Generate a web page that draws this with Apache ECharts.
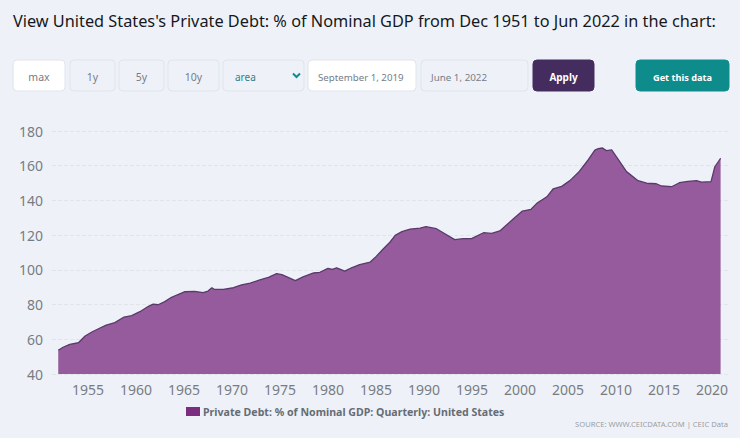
<!DOCTYPE html>
<html><head><meta charset="utf-8">
<script src="https://cdn.jsdelivr.net/npm/echarts@6/dist/echarts.min.js"></script>
<style>html,body{margin:0;padding:0;background:#eef2f8}#c{width:740px;height:438px}</style>
</head><body><div id="c"></div>
<script>
const years = [1951.9,1952.4,1953.1,1954.0,1954.7,1955.4,1956.25,1956.9,1957.8,1958.75,1959.55,1960.4,1961.3,1961.8,1962.3,1963.0,1963.7,1964.25,1965.1,1966.1,1967.0,1967.5,1967.9,1968.15,1969.1,1970.15,1971.0,1971.9,1972.9,1973.8,1974.65,1975.2,1975.9,1976.6,1977.4,1978.5,1979.15,1980.0,1980.45,1980.9,1981.75,1982.45,1983.3,1984.4,1985.0,1985.75,1986.45,1987.0,1987.7,1988.55,1989.6,1990.2,1991.3,1992.0,1993.2,1994.1,1994.95,1996.2,1997.05,1997.9,1998.8,1999.5,2000.25,2001.15,2001.75,2002.8,2003.45,2004.35,2005.2,2006.1,2007.1,2007.8,2008.15,2008.6,2009.0,2009.55,2010.25,2011.1,2012.3,2013.2,2014.2,2014.75,2015.8,2016.6,2017.5,2018.4,2018.9,2019.9,2020.3,2020.9];
const debt = [53.7,55.4,57.1,58,61.9,64.2,66.5,68.2,69.6,72.8,73.6,75.9,79,80.3,79.9,81.7,84.2,85.5,87.4,87.6,86.9,87.8,89.7,88.8,88.8,89.7,91.4,92.4,94.2,95.7,97.8,97.2,95.5,93.8,96,98.2,98.6,100.9,100.3,101.2,99.3,101.2,103,104.5,107.6,112,115.9,119.9,122,123.5,124.1,124.9,123.7,121.4,117.4,118,118,121.4,121,122.4,126.8,130.3,133.9,134.9,138.3,142.1,146.6,148.1,151.4,156.2,163.3,169,169.8,170.2,168.7,169.1,163.5,156.6,151.4,149.9,149.6,148.3,147.9,150.2,151,151.4,150.6,150.8,159.4,164.3];
const xTicks = [1955,1960,1965,1970,1975,1980,1985,1990,1995,2000,2005,2010,2015,2020];
const seriesName = 'Private Debt: % of Nominal GDP: Quarterly: United States';
const titleText = "View United States's Private Debt: % of Nominal GDP from Dec 1951 to Jun 2022 in the chart:";
const sourceText = 'SOURCE: WWW.CEICDATA.COM | CEIC Data';

const FONT = '"Noto Sans", "Open Sans", sans-serif';
function box(x, w, label, o) {
  o = o || {};
  return {
    type: 'group', children: [
      { type: 'rect', shape: { x: x, y: 60, width: w, height: 31, r: 4 },
        style: { fill: o.fill || '#eef2f8', stroke: o.stroke || '#dfe4ec', lineWidth: 1 } },
      { type: 'text', style: { x: o.left ? x + (o.pad || 10) : x + w / 2, y: 77, text: label,
        fill: o.color || '#777d86', font: (o.weight || 'normal') + ' ' + (o.size || 10.5) + 'px ' + FONT,
        align: o.left ? 'left' : 'center', verticalAlign: 'middle' } }
    ]
  };
}
const chart = echarts.init(document.getElementById('c'), null, { renderer: 'svg' });
chart.setOption({
  backgroundColor: '#eef2f8',
  animation: false,
  title: { text: titleText, left: 8, top: 8,
    textStyle: { fontFamily: FONT, fontSize: 16.3, fontWeight: 'normal', color: '#15181d' } },
  grid: { left: 52, right: 12, top: 131, bottom: 64 },
  legend: { left: 181, top: 401, icon: 'rect', itemWidth: 14, itemHeight: 9, itemGap: 4,
    itemStyle: { color: '#7b2d80' },
    textStyle: { fontFamily: FONT, fontSize: 10.6, fontWeight: 'bold', color: '#666c75', padding: [0, 0, 0, -2] } },
  xAxis: { type: 'value', min: 1951.25, max: 2021.67, splitLine: { show: false },
    axisLine: { show: false }, axisTick: { show: false },
    axisLabel: { customValues: xTicks, margin: 8, fontFamily: FONT, fontSize: 14, color: '#777c83',
      formatter: v => String(v) } },
  yAxis: { type: 'value', min: 40, max: 180, interval: 20,
    axisLine: { show: false }, axisTick: { show: false },
    splitLine: { lineStyle: { color: '#e1e4e8', type: 'dashed', width: 1 } },
    axisLabel: { margin: 9, fontFamily: FONT, fontSize: 14, color: '#777c83' } },
  series: [{ name: seriesName, type: 'line', showSymbol: false, symbol: 'none',
    data: years.map((y, i) => [y, debt[i]]),
    lineStyle: { color: '#5a3a6b', width: 1.3 },
    itemStyle: { color: '#7b2d80' },
    areaStyle: { color: '#955b9c', opacity: 1, origin: 'start' } }],
  graphic: [
    box(13, 52, 'max', { fill: '#ffffff' }),
    box(70, 45, '1y'), box(119, 45, '5y'), box(168, 51, '10y'),
    box(223, 81, 'area', { color: '#2f7f8c', left: true, pad: 12, size: 10 }),
    { type: 'polyline', shape: { points: [[293, 73.5], [296.5, 77], [300, 73.5]] },
      style: { stroke: '#0e8c8c', lineWidth: 2, fill: 'none' } },
    box(308, 108, 'September 1, 2019', { fill: '#ffffff', left: true, size: 9.7 }),
    box(421, 107, 'June 1, 2022', { left: true, size: 9.8 }),
    box(533, 61, 'Apply', { fill: '#452c5e', stroke: '#452c5e', color: '#ffffff', weight: 'bold', size: 10 }),
    box(636, 93, 'Get this data', { fill: '#0e8c8c', stroke: '#0e8c8c', color: '#ffffff', weight: 'bold', size: 9.2 }),
    { type: 'text', style: { x: 728, y: 424, text: sourceText, fill: '#9a9ea5',
      font: '7.6px ' + FONT, align: 'right', verticalAlign: 'middle' } }
  ]
});
</script></body></html>
